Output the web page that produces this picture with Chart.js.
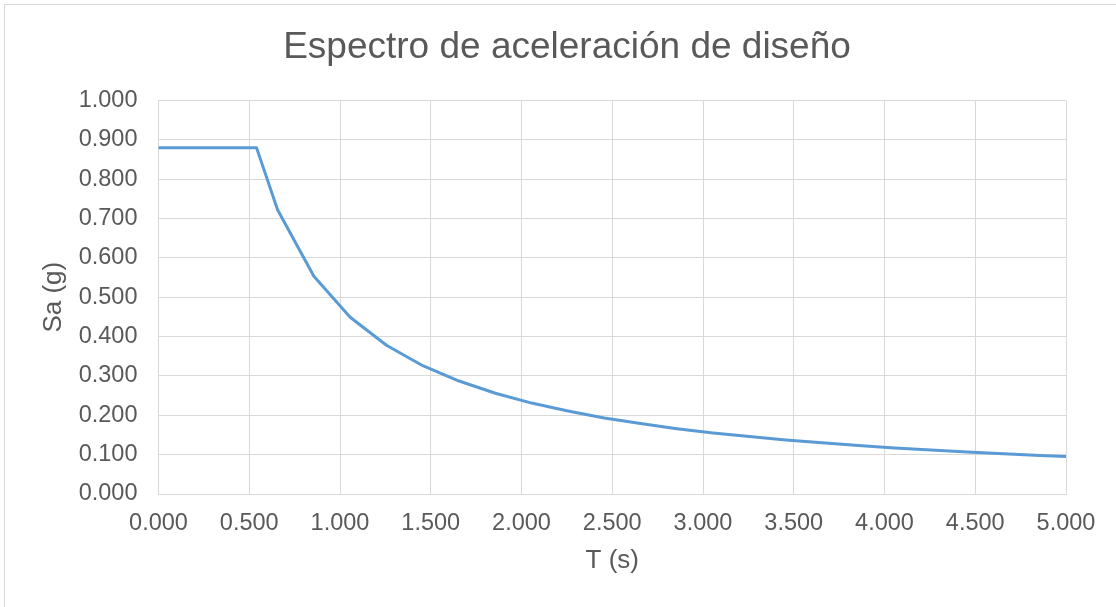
<!DOCTYPE html>
<html>
<head>
<meta charset="utf-8">
<script src="https://cdn.jsdelivr.net/npm/chart.js@4/dist/chart.umd.min.js"></script>
<style>
  html, body { margin: 0; padding: 0; background: #fff; overflow: hidden; }
  #wrap { position: relative; width: 1116px; height: 607px; }
</style>
</head>
<body>
<div id="wrap"><canvas id="chart"></canvas></div>
<script>
// Period T (s) and spectral acceleration Sa (g)
const periods = [0.000, 0.540, 0.656, 0.856, 1.056, 1.256, 1.456, 1.656, 1.856, 2.056,
  2.256, 2.456, 2.656, 2.856, 3.056, 3.256, 3.456, 3.656, 3.856, 4.056,
  4.256, 4.456, 4.656, 4.856, 5.000];
const saValues = [0.880, 0.880, 0.722, 0.553, 0.449, 0.378, 0.326, 0.287, 0.256, 0.231,
  0.211, 0.193, 0.179, 0.166, 0.155, 0.146, 0.137, 0.130, 0.123, 0.117,
  0.112, 0.107, 0.102, 0.098, 0.095];
const xTicks = [0, 0.5, 1, 1.5, 2, 2.5, 3, 3.5, 4, 4.5, 5];
const yTicks = [0, 0.1, 0.2, 0.3, 0.4, 0.5, 0.6, 0.7, 0.8, 0.9, 1];

const textColor = '#595959';
const gridColor = '#d9d9d9';
const family = '"Liberation Sans", Arial, sans-serif';

// light frame of the chart area (only top/left edge is inside the shot)
const frame = {
  id: 'frame',
  beforeDraw(chart) {
    const ctx = chart.ctx;
    ctx.save();
    ctx.strokeStyle = gridColor;
    ctx.lineWidth = 1;
    ctx.strokeRect(4.5, 4.5, 1200, 700);
    ctx.restore();
  }
};

const ctx = document.getElementById('chart').getContext('2d');
new Chart(ctx, {
  type: 'line',
  data: {
    datasets: [{
      label: 'Sa',
      data: periods.map((t, i) => ({ x: t, y: saValues[i] })),
      borderColor: '#5b9bd5',
      borderWidth: 3,
      pointRadius: 0,
      tension: 0,
      borderJoinStyle: 'round',
      borderCapStyle: 'round'
    }]
  },
  options: {
    responsive: true,
    maintainAspectRatio: false,
    animation: false,
    layout: { padding: { left: 68, right: 50, top: 26, bottom: 0 } },
    plugins: {
      legend: { display: false },
      tooltip: { enabled: false },
      title: {
        display: true,
        text: 'Espectro de aceleración de diseño',
        color: textColor,
        font: { family, size: 37, weight: 'normal' },
        padding: { top: 0, bottom: 30 }
      }
    },
    scales: {
      x: {
        type: 'linear',
        min: 0,
        max: 5,
        afterBuildTicks: s => { s.ticks = xTicks.map(v => ({ value: v })); },
        afterFit: s => { s.height = 113; },
        grid: { color: gridColor, drawTicks: false },
        border: { color: gridColor },
        ticks: {
          color: textColor,
          font: { family, size: 23.5 },
          padding: 15,
          maxRotation: 0,
          callback: v => v.toFixed(3)
        },
        title: {
          display: true,
          text: 'T (s)',
          color: textColor,
          font: { family, size: 26 },
          padding: { top: 0, bottom: 31 }
        }
      },
      y: {
        min: 0,
        max: 1,
        afterBuildTicks: s => { s.ticks = yTicks.map(v => ({ value: v })); },
        afterFit: s => { s.width = 158.5 - 68; },
        grid: { color: gridColor, drawTicks: false },
        border: { color: gridColor },
        ticks: {
          color: textColor,
          font: { family, size: 23.5 },
          padding: 21,
          callback: v => v.toFixed(3)
        },
        title: {
          display: true,
          text: 'Sa (g)',
          color: textColor,
          font: { family, size: 26 },
          padding: { top: -30, bottom: 0 }
        }
      }
    }
  },
  plugins: [frame]
});
</script>
</body>
</html>
